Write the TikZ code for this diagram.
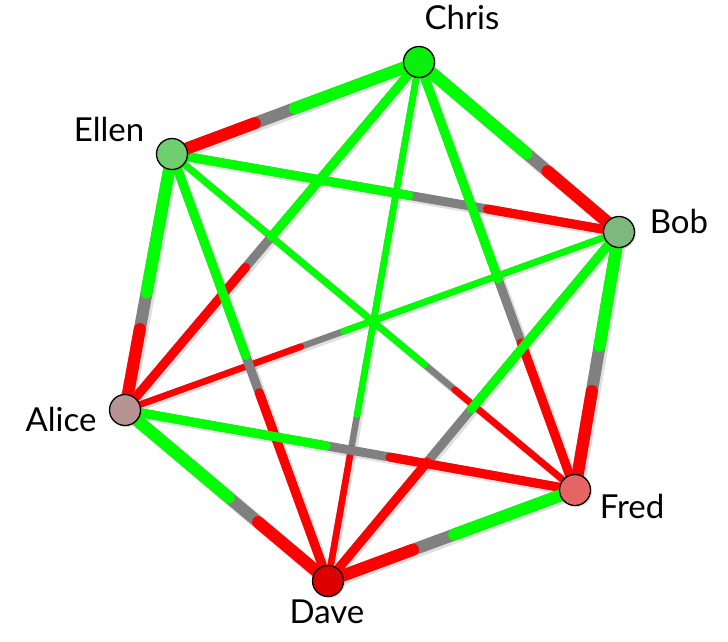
\documentclass[tikz,border=0pt]{standalone}
\usepackage{fontspec}
\setmainfont{Lato}
\usetikzlibrary{calc,backgrounds,shadows}
\definecolor{lgreen}{HTML}{00FF00}
\definecolor{lred}{HTML}{FF0000}
\definecolor{lgray}{HTML}{808080}
\definecolor{cC}{HTML}{0CEE0C}
\definecolor{cE}{HTML}{6FCF6F}
\definecolor{cB}{HTML}{7DB87D}
\definecolor{cA}{HTML}{B89393}
\definecolor{cF}{HTML}{E56565}
\definecolor{cD}{HTML}{DD0000}
\newcommand\kshadow[3]{%
  \draw[black, opacity=0.12, line width={(#3+2)*1pt}, transform canvas={shift={(1.6pt,-1.6pt)}}] (#1.center) -- (#2.center);}
\newcommand\kedge[5]{% green node, red node, width, green tip, red tip (fractions from green node)
  \draw[lgray, line width={#3*1pt}] (#1.center) -- (#2.center);
  \draw[lgreen, line width={#3*1pt}, line cap=round, shorten >={#3*0.5pt}] (#1.center) -- ($(#1.center)!#4!(#2.center)$);
  \draw[lred, line width={#3*1pt}, line cap=round, shorten >={#3*0.5pt}] (#2.center) -- ($(#1.center)!#5!(#2.center)$);}
\tikzset{
  vert/.style={circle, draw=black, line width=1.3pt, minimum size=31pt, inner sep=0pt,
    drop shadow={opacity=0.25, shadow xshift=1.5pt, shadow yshift=-1.5pt}},
  lab/.style={font=\fontsize{33}{38}\selectfont, text=black, inner sep=0pt}
}
\begin{document}
\begin{tikzpicture}[x=1pt, y=-1pt]
\useasboundingbox (0,0) rectangle (728,641);
\node[vert, fill=cC] (C) at (419,62) {};
\node[vert, fill=cE] (E) at (172,154) {};
\node[vert, fill=cB] (B) at (619,232) {};
\node[vert, fill=cA] (A) at (125,410) {};
\node[vert, fill=cF] (F) at (575,490) {};
\node[vert, fill=cD] (D) at (328,581) {};
\node[lab] (Cl) at (462,17) {Chris};
\node[lab] (El) at (109,129) {Ellen};
\node[lab] (Bl) at (679,221) {Bob};
\node[lab] (Al) at (61,419) {Alice};
\node[lab] (Fl) at (632,506) {Fred};
\node[lab] (Dl) at (327,612) {Dave};
\begin{pgfonlayer}{background}
  % shadows
  \kshadow{C}{E}{12}\kshadow{C}{B}{12}\kshadow{E}{A}{12}
  \kshadow{B}{F}{12}\kshadow{A}{D}{12}\kshadow{F}{D}{12}
  \kshadow{E}{B}{9}\kshadow{C}{A}{9}\kshadow{C}{F}{9}
  \kshadow{E}{D}{9}\kshadow{B}{D}{9}\kshadow{A}{F}{9}
  \kshadow{C}{D}{6.5}\kshadow{E}{F}{6.5}\kshadow{B}{A}{6.5}
  % diametric
  \kedge{C}{D}{6.5}{0.686}{0.738}
  \kedge{E}{F}{6.5}{0.633}{0.695}
  \kedge{B}{A}{6.5}{0.564}{0.638}
  % skip-one
  \kedge{E}{B}{9}{0.54}{0.696}
  \kedge{C}{A}{9}{0.512}{0.58}
  \kedge{C}{F}{9}{0.517}{0.646}
  \kedge{E}{D}{9}{0.482}{0.549}
  \kedge{B}{D}{9}{0.517}{0.649}
  \kedge{A}{F}{9}{0.457}{0.579}
  % perimeter
  \kedge{C}{E}{12}{0.525}{0.642}
  \kedge{C}{B}{12}{0.56}{0.62}
  \kedge{E}{A}{12}{0.564}{0.661}
  \kedge{B}{F}{12}{0.464}{0.593}
  \kedge{A}{D}{12}{0.534}{0.633}
  \kedge{F}{D}{12}{0.512}{0.633}
\end{pgfonlayer}
\end{tikzpicture}
\end{document}
